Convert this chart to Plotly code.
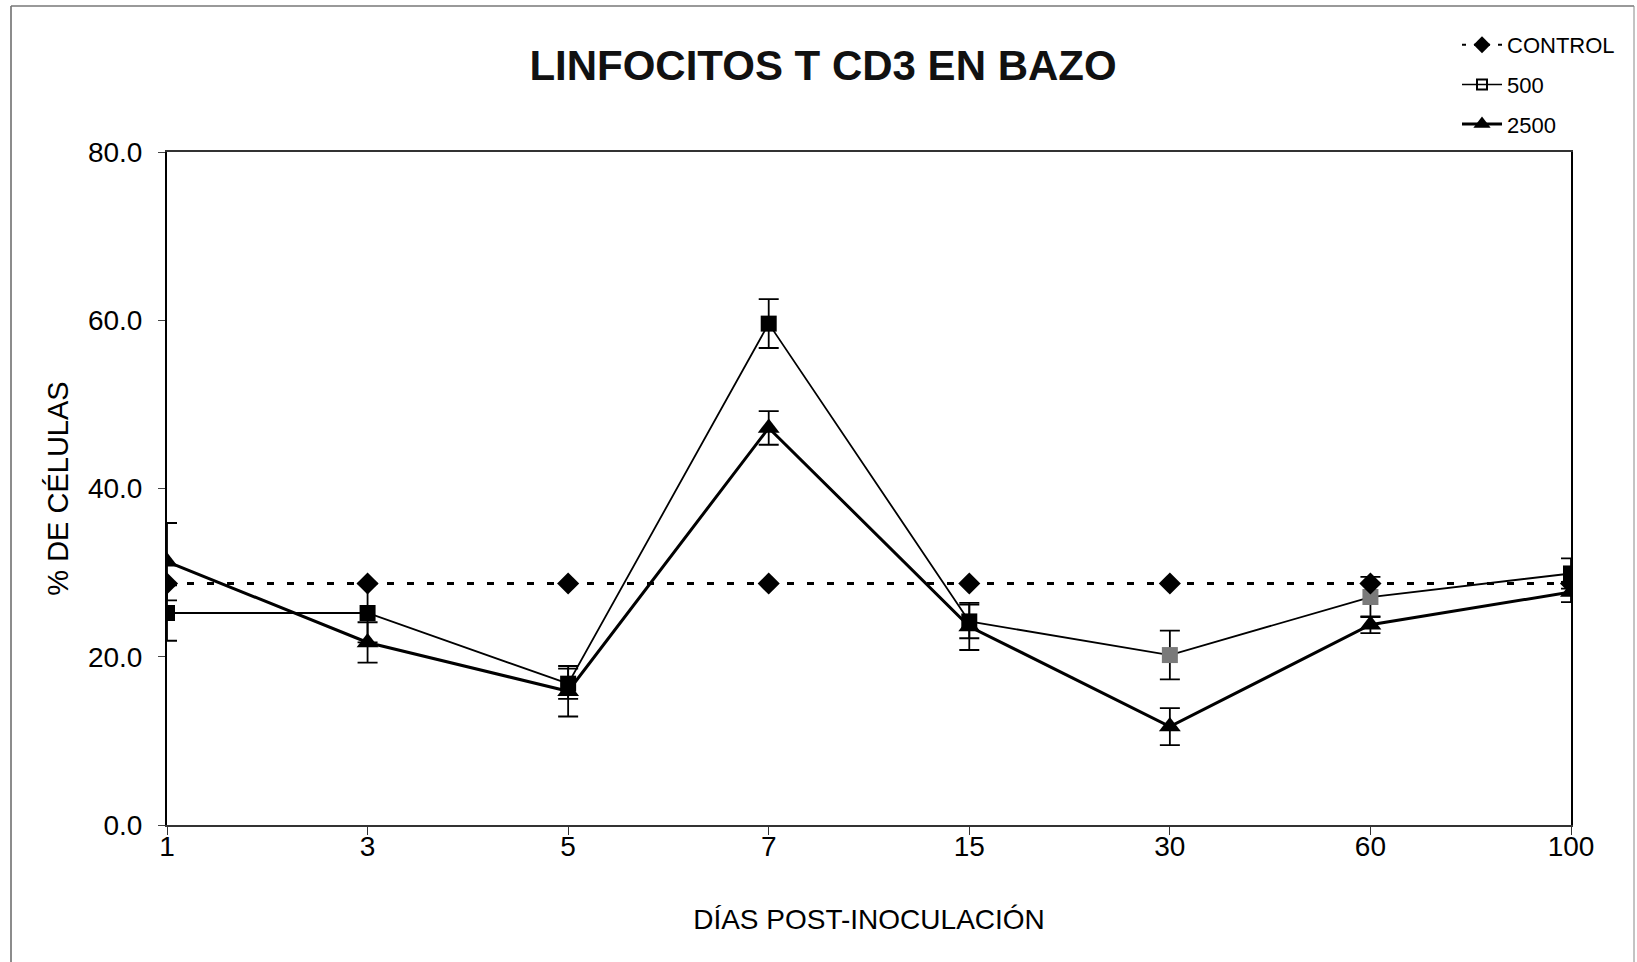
import plotly.graph_objects as go

days = ["1", "3", "5", "7", "15", "30", "60", "100"]
control = [28.7, 28.7, 28.7, 28.7, 28.7, 28.7, 28.7, 28.7]
s500 = [25.2, 25.2, 16.8, 59.6, 24.2, 20.2, 27.1, 29.9]
s500_err = [3.3, 3.5, 1.8, 2.9, 2.0, 2.9, 2.4, 1.8]
s2500 = [31.3, 21.7, 15.9, 47.2, 23.6, 11.7, 23.8, 27.7]
s2500_err = [4.6, 2.4, 3.0, 2.0, 2.8, 2.2, 1.0, 1.2]
s500_marker_colors = ["black", "black", "black", "black", "black", "#7a7a7a", "#7a7a7a", "black"]

FONT = "Liberation Sans, Arial, sans-serif"

fig = go.Figure()

fig.add_trace(go.Scatter(
    x=days, y=s500, mode="lines+markers", showlegend=False,
    line=dict(color="black", width=1.8),
    marker=dict(symbol="square", size=16, color=s500_marker_colors),
    error_y=dict(type="data", array=s500_err, visible=True, color="black", thickness=1.8, width=10),
))
fig.add_trace(go.Scatter(
    x=days, y=s2500, mode="lines+markers", showlegend=False,
    line=dict(color="black", width=3),
    marker=dict(symbol="triangle-up", size=19, color="black"),
    error_y=dict(type="data", array=s2500_err, visible=True, color="black", thickness=1.8, width=10),
))
fig.add_trace(go.Scatter(
    x=days, y=control, mode="lines+markers", showlegend=False,
    line=dict(color="black", width=3, dash="7px,13px"),
    marker=dict(symbol="diamond", size=17, color="black"),
))

# legend entries
fig.add_trace(go.Scatter(
    x=[None], y=[None], mode="lines+markers", name="CONTROL", legendgroup="a",
    line=dict(color="black", width=2, dash="4px,8px"),
    marker=dict(symbol="diamond", size=13, color="black"),
))
fig.add_trace(go.Scatter(
    x=[None], y=[None], mode="lines+markers", name="500", legendgroup="b",
    line=dict(color="black", width=1.5),
    marker=dict(symbol="square-open", size=10, color="black", line=dict(width=2)),
))
fig.add_trace(go.Scatter(
    x=[None], y=[None], mode="lines+markers", name="2500", legendgroup="c",
    line=dict(color="black", width=3),
    marker=dict(symbol="triangle-up", size=15, color="black"),
))

W, H = 1637, 962
L, R, T, B = 167, 1571, 152, 825
PW, PH = R - L, B - T


def px_x(px):
    return (px - L) / PW


def px_y(py):
    return (B - py) / PH


fig.update_layout(
    width=W, height=H,
    margin=dict(l=L, r=W - R, t=T, b=H - B, autoexpand=False),
    paper_bgcolor="white", plot_bgcolor="white",
    font=dict(family=FONT, color="black"),
    title=dict(text="<b>LINFOCITOS T CD3 EN BAZO</b>", x=823 / W, xanchor="center",
               y=1 - 65 / H, yanchor="middle", font=dict(size=42, family=FONT, color="#111")),
    legend=dict(x=px_x(1457), y=px_y(24), xanchor="left", yanchor="top",
                font=dict(size=22, family=FONT), bgcolor="rgba(0,0,0,0)",
                tracegroupgap=8, traceorder="grouped", itemwidth=40),
    xaxis=dict(type="category", categoryorder="array", categoryarray=days,
               range=[0, 7], showline=True, linecolor="#333", linewidth=1.5, mirror=True,
               ticks="outside", ticklen=8, tickcolor="#333", showgrid=False, zeroline=False,
               tickfont=dict(size=28, family=FONT), ticklabelstandoff=-12,
               title=dict(text="DÍAS POST-INOCULACIÓN", font=dict(size=28, family=FONT), standoff=48)),
    yaxis=dict(range=[0, 80], dtick=20, tickformat=".1f", showline=True, linecolor="black",
               linewidth=2, mirror=True, ticks="outside", ticklen=7, showgrid=False, zeroline=False,
               tickfont=dict(size=28, family=FONT), ticklabelstandoff=10,
               title=dict(text="% DE CÉLULAS", font=dict(size=29, family=FONT), standoff=11)),
    shapes=[
        dict(type="line", xref="paper", yref="paper", x0=px_x(11), x1=px_x(11),
             y0=px_y(6), y1=px_y(975), line=dict(color="#666", width=1.5)),
        dict(type="line", xref="paper", yref="paper", x0=px_x(11), x1=px_x(1634),
             y0=px_y(6), y1=px_y(6), line=dict(color="#777", width=1.5)),
        dict(type="line", xref="paper", yref="paper", x0=px_x(1634), x1=px_x(1634),
             y0=px_y(6), y1=px_y(975), line=dict(color="#888", width=1)),
    ],
)

fig.write_html("out.html")
